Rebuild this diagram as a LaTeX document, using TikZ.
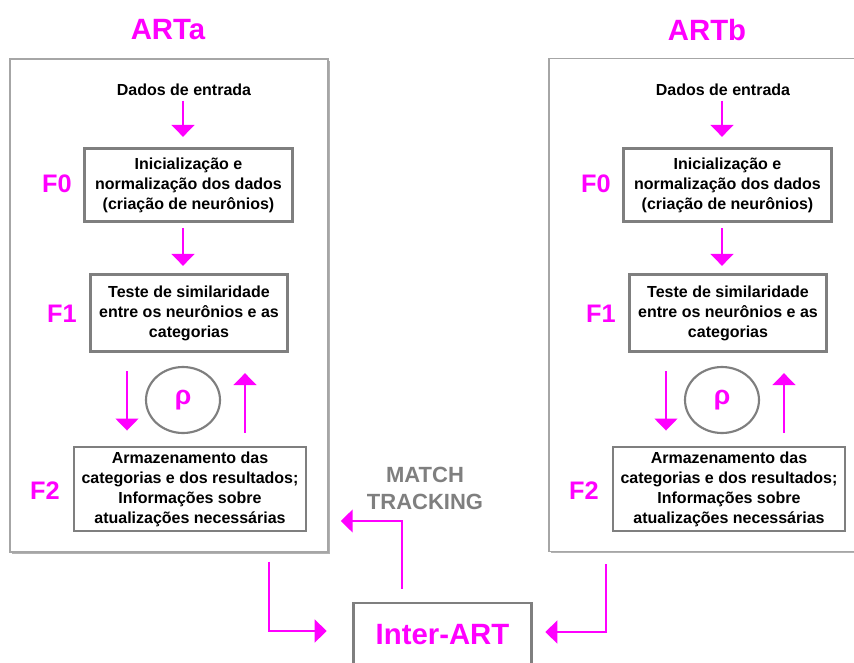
\documentclass[tikz,border=0pt]{standalone}
\usepackage{fontspec}
\setmainfont{Liberation Sans}
\usetikzlibrary{arrows.meta,shadows,shapes.geometric}
\definecolor{mag}{HTML}{FF00FF}
\definecolor{boxgray}{HTML}{7F7F7F}
\definecolor{contgray}{HTML}{A6A6A6}
\begin{document}
\begin{tikzpicture}[x=0.75pt,y=-0.75pt,
  container/.style={draw=contgray,line width=1.1pt,fill=white,inner sep=0pt,
    drop shadow={shadow xshift=1.2pt,shadow yshift=-1.2pt,fill=black,opacity=0.3}},
  procbox/.style={draw=boxgray,line width=2.2pt,align=center,inner sep=0pt,
    font=\fontsize{12}{15}\selectfont\bfseries},
  plain/.style={align=center,font=\fontsize{12}{15}\selectfont\bfseries},
  layer/.style={text=mag,font=\fontsize{19}{21}\selectfont\bfseries},
  title/.style={text=mag,font=\fontsize{22}{24}\selectfont\bfseries},
  arr/.style={draw=mag,line width=2pt,-{Triangle[width=17pt,length=9pt]}},
  rhocirc/.style={ellipse,draw=boxgray,line width=1.6pt,minimum width=55.5pt,
    minimum height=49.5pt,inner sep=0pt,text=mag,font=\fontsize{20}{22}\selectfont\bfseries},
]
\useasboundingbox (0,0) rectangle (854,662);
% containers
\node[container,minimum width=238.5pt,minimum height=369.75pt] (contA) at (169,305.5) {};
\node[container,minimum width=234.75pt,minimum height=369.75pt] (contB) at (705.5,305) {};

\foreach \s/\dx/\t in {a/0/ARTa,b/539/ARTb}{
 \begin{scope}[xshift=\dx*0.75pt]
  \node[title] (title\s) at (168,30) {\t};
  \node[plain] (in\s) at (184,90) {Dados de entrada};
  \coordinate (ax\s) at (183,0);
  \coordinate (dn\s) at (127,0);
  \coordinate (up\s) at (245,0);
  \node[procbox,minimum width=156pt,minimum height=55pt] (f0\s) at (188.5,185)
    {Inicialização e\\normalização dos dados\\(criação de neurônios)};
  \node[procbox,minimum width=148pt,minimum height=58pt] (f1\s) at (189,313)
    {Teste de similaridade\\entre os neurônios e as\\categorias};
  \node[procbox,minimum width=174pt,minimum height=63pt] (f2\s) at (190,489)
    {Armazenamento das\\categorias e dos resultados;\\Informações sobre\\atualizações necessárias};
  \node[rhocirc] (rho\s) at (183,400) {ρ};
  \node[layer] (l0\s) at (57,184) {F0};
  \node[layer] (l1\s) at (62,314) {F1};
  \node[layer] (l2\s) at (45,491) {F2};
  \draw[arr,shorten >=7.5pt] (in\s.south -| ax\s) -- (f0\s.north -| ax\s);
  \draw[arr,shorten <=3.75pt,shorten >=5.25pt] (f0\s.south -| ax\s) -- (f1\s.north -| ax\s);
  \draw[arr,shorten <=13.5pt,shorten >=11.25pt] (f1\s.south -| dn\s) -- (f2\s.north -| dn\s);
  \draw[arr,shorten <=9.75pt,shorten >=15pt] (f2\s.north -| up\s) -- (f1\s.south -| up\s);
 \end{scope}
}

% bottom part
\node[draw=boxgray,line width=2.2pt,minimum width=134pt,minimum height=48pt,inner sep=0pt,
  text=mag,font=\fontsize{22}{24}\selectfont\bfseries] (inter) at (442.5,635) {Inter-ART};
\node[text=boxgray,font=\fontsize{16.5}{20}\selectfont\bfseries,align=center] (mt) at (425,488.5) {MATCH\\TRACKING};
\coordinate (laTurn) at (269,631);
\coordinate (mtTurn) at (402,521);
\coordinate (rbTurn) at (606,632);
\draw[arr,shorten <=6.75pt,shorten >=18.75pt] (contA.south -| laTurn) -- (laTurn) -- (laTurn -| inter.west);
\draw[arr,shorten <=9.75pt,shorten >=9pt] (inter.north -| mtTurn) -- (mtTurn) -- (mtTurn -| contA.east);
\draw[arr,shorten <=9pt,shorten >=9pt] (contB.south -| rbTurn) -- (rbTurn) -- (rbTurn -| inter.east);
\end{tikzpicture}
\end{document}
